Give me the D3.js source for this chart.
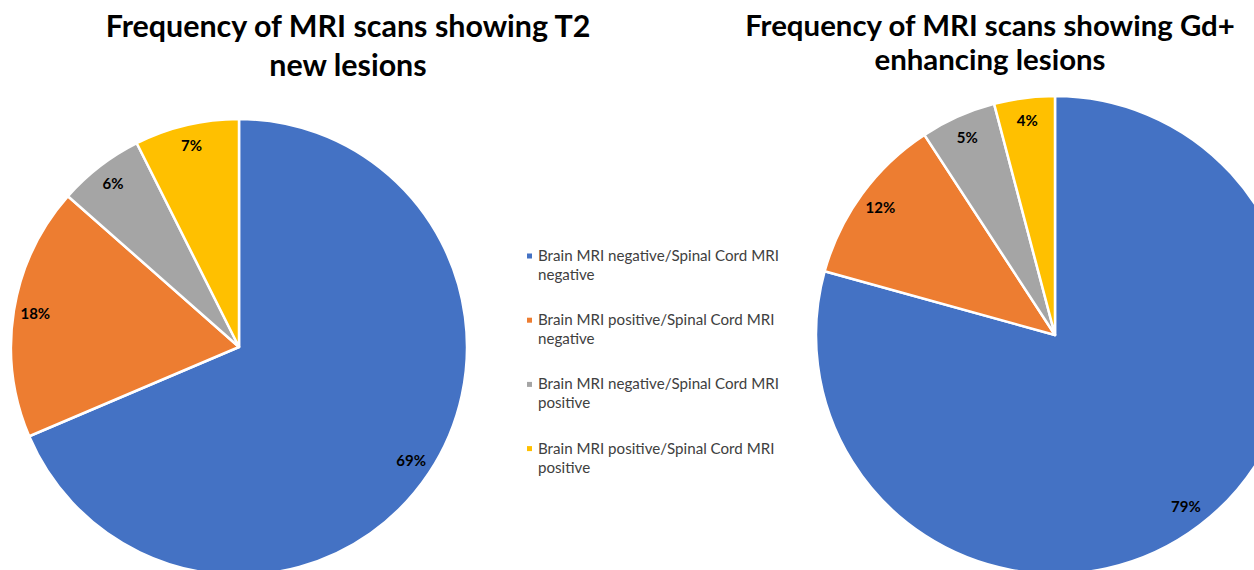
<!DOCTYPE html>
<html>
<head>
<meta charset="utf-8">
<script src="https://cdn.jsdelivr.net/npm/d3@7"></script>
<style>
  body { margin: 0; background: #fff; }
  svg { display: block; font-family: Lato, "Open Sans", sans-serif; }
</style>
</head>
<body>
<svg id="chart" width="1254" height="570"></svg>
<script>
// categories (legend order = slice order, clockwise from 12 o'clock)
var categories = [
  ["Brain MRI negative/Spinal Cord MRI", "negative"],
  ["Brain MRI positive/Spinal Cord MRI", "negative"],
  ["Brain MRI negative/Spinal Cord MRI", "positive"],
  ["Brain MRI positive/Spinal Cord MRI", "positive"]
];
var colors = ["#4472C4", "#ED7D31", "#A5A5A5", "#FFC000"];

// percentages
var t2Values = [68.6, 17.9, 6.1, 7.4];
var gdValues = [79.3, 11.5, 5.1, 4.1];

var t2Title = ["Frequency of MRI scans showing T2", "new lesions"];
var gdTitle = ["Frequency of MRI scans showing Gd+", "enhancing lesions"];

var svg = d3.select("#chart");

// shrink/grow font so the text spans a given width
function fitSize(sel, target) {
  var w = sel.node().getComputedTextLength();
  var fs = parseFloat(sel.attr("font-size"));
  sel.attr("font-size", fs * target / w);
  return fs * target / w;
}

var pie = d3.pie().sort(null).value(function (d) { return d; });

function drawPie(values, cx, cy, r) {
  var g = svg.append("g").attr("transform", "translate(" + cx + "," + cy + ")");
  var arc = d3.arc().innerRadius(0).outerRadius(r);
  var labelArc = d3.arc().innerRadius(r * 0.905).outerRadius(r * 0.905);
  var arcs = pie(values);

  g.selectAll("path")
    .data(arcs).enter()
    .append("path")
    .attr("d", arc)
    .attr("fill", function (d, i) { return colors[i]; })
    .attr("stroke", "#fff")
    .attr("stroke-width", 2.5)
    .attr("stroke-linejoin", "round");

  g.selectAll("text")
    .data(arcs).enter()
    .append("text")
    .attr("transform", function (d) { return "translate(" + labelArc.centroid(d) + ")"; })
    .attr("text-anchor", "middle")
    .attr("dy", "0.35em")
    .attr("font-size", 15)
    .attr("font-weight", "bold")
    .attr("fill", "#000")
    .text(function (d) { return Math.round(d.value) + "%"; });
}

function drawTitle(lines, cx, y1, y2, width) {
  var t1 = svg.append("text")
    .attr("x", cx).attr("y", y1)
    .attr("text-anchor", "middle")
    .attr("font-weight", "bold")
    .attr("font-size", 26)
    .attr("fill", "#000")
    .text(lines[0]);
  var fs = fitSize(t1, width);
  svg.append("text")
    .attr("x", cx).attr("y", y2)
    .attr("text-anchor", "middle")
    .attr("font-weight", "bold")
    .attr("font-size", fs)
    .attr("fill", "#000")
    .text(lines[1]);
}

drawPie(t2Values, 239, 347, 228);
drawPie(gdValues, 1055, 335, 239);

drawTitle(t2Title, 348, 37, 76, 485);
drawTitle(gdTitle, 990, 36, 70, 490);

// legend
var legend = svg.append("g");
var items = legend.selectAll("g")
  .data(categories).enter()
  .append("g")
  .attr("transform", function (d, i) { return "translate(528," + (261 + i * 64.2) + ")"; });

items.append("rect")
  .attr("x", -1).attr("y", -7.5)
  .attr("width", 5).attr("height", 5)
  .attr("fill", function (d, i) { return colors[i]; });

var firstLine = items.append("text")
  .attr("x", 10).attr("y", 0)
  .attr("font-size", 14)
  .attr("fill", "#404040")
  .text(function (d) { return d[0]; });
var lfs = fitSize(d3.select(firstLine.nodes()[0]), 241);
firstLine.attr("font-size", lfs);

items.append("text")
  .attr("x", 10).attr("y", 19)
  .attr("font-size", lfs)
  .attr("fill", "#404040")
  .text(function (d) { return d[1]; });
</script>
</body>
</html>
